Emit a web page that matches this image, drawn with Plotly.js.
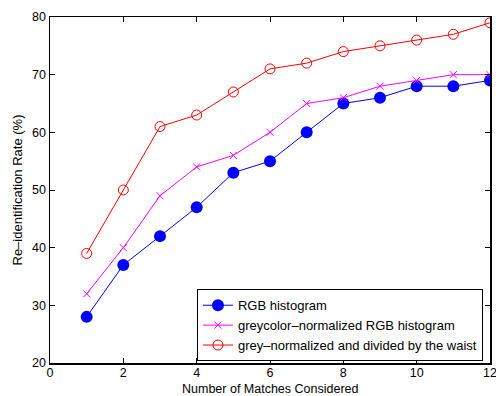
<!DOCTYPE html>
<html>
<head>
<meta charset="utf-8">
<script src="https://cdn.plot.ly/plotly-3.0.1.min.js"></script>
<style>html,body{margin:0;padding:0;background:#fff;overflow:hidden;}#chart{width:496px;height:396px;}</style>
</head>
<body>
<div id="chart"></div>
<script>
const matches = [1, 2, 3, 4, 5, 6, 7, 8, 9, 10, 11, 12];
const rgbHistogram = [28, 37, 42, 47, 53, 55, 60, 65, 66, 68, 68, 69];
const greycolorNormalized = [32, 40, 49, 54, 56, 60, 65, 66, 68, 69, 70, 70];
const greyNormalizedWaist = [39, 50, 61, 63, 67, 71, 72, 74, 75, 76, 77, 79];
const seriesNames = ['RGB histogram', 'greycolor–normalized RGB histogram', 'grey–normalized and divided by the waist'];
const xTicks = [0, 2, 4, 6, 8, 10, 12];
const yTicks = [20, 30, 40, 50, 60, 70, 80];
const xTitle = 'Number of Matches Considered';
const yTitle = 'Re–identification Rate (%)';

const font = 'Liberation Sans, Arial, Helvetica, sans-serif';

const traces = [
  {x: matches, y: rgbHistogram, name: seriesNames[0], type: 'scatter', mode: 'lines+markers',
   line: {color: '#0000ff', width: 1}, marker: {symbol: 'circle', size: 12, color: '#0000ff'}},
  {x: matches, y: greycolorNormalized, name: seriesNames[1], type: 'scatter', mode: 'lines+markers',
   line: {color: '#ff00ff', width: 1}, marker: {symbol: 'x-thin-open', size: 7, color: '#ff00ff', line: {color: '#ff00ff', width: 1}}},
  {x: matches, y: greyNormalizedWaist, name: seriesNames[2], type: 'scatter', mode: 'lines+markers',
   line: {color: '#ff0000', width: 1}, marker: {symbol: 'circle-open', size: 10, color: '#ff0000', line: {color: '#ff0000', width: 1}}}
];

const axisCommon = {
  showgrid: false, zeroline: false, showline: true, linecolor: '#000', linewidth: 1.5,
  mirror: 'ticks', ticks: 'inside', ticklen: 5, tickcolor: '#000', tickwidth: 1,
  tickfont: {family: font, size: 12.5, color: '#000'}, automargin: false,
  ticklabeloverflow: 'allow'
};

const layout = {
  width: 496, height: 396,
  margin: {l: 50, r: 6, t: 17, b: 33},
  paper_bgcolor: '#fff', plot_bgcolor: '#fff',
  showlegend: true,
  xaxis: Object.assign({}, axisCommon, {
    range: [0, 12], tickvals: xTicks, ticktext: xTicks.map(String), ticklabelstandoff: -3
  }),
  yaxis: Object.assign({}, axisCommon, {
    range: [20, 80], tickvals: yTicks, ticktext: yTicks.map(String),
    title: {text: yTitle, font: {family: font, size: 13, color: '#000'}, standoff: 6}
  }),
  annotations: [{
    text: xTitle, xref: 'paper', yref: 'paper', x: 0.5, y: 0,
    xanchor: 'center', yanchor: 'middle', yshift: -26, showarrow: false, borderpad: 0,
    font: {family: font, size: 12.5, color: '#000'}
  }],
  legend: {
    x: 0.984, y: 0.005, xanchor: 'right', yanchor: 'bottom',
    bgcolor: '#fff', bordercolor: '#000', borderwidth: 1,
    font: {family: font, size: 13, color: '#000'},
    tracegroupgap: 0, itemwidth: 30
  }
};

Plotly.newPlot('chart', traces, layout, {displayModeBar: false, staticPlot: true});
</script>
</body>
</html>
